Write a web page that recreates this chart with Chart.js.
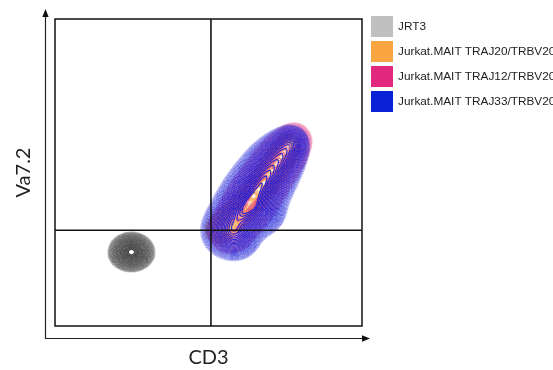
<!DOCTYPE html>
<html>
<head>
<meta charset="utf-8">
<script src="https://cdn.jsdelivr.net/npm/chart.js@4.4.1/dist/chart.umd.min.js"></script>
<style>
  html, body { margin: 0; padding: 0; background: #fff; overflow: hidden; }
  canvas { display: block; }
</style>
</head>
<body>
<canvas id="plot" width="553" height="370"></canvas>
<script>
// Samples shown in the overlay, back to front
const populations = ['JRT3', 'Jurkat.MAIT TRAJ20/TRBV20', 'Jurkat.MAIT TRAJ12/TRBV20', 'Jurkat.MAIT TRAJ33/TRBV20'];
const swatchColors = ['#c0c0c0', '#f9a541', '#e0297f', '#0a22d6'];
const contourRGB = ['70,70,70', '245,150,50', '225,40,125', '25,30,215'];
const outerAlpha = [0.28, 0.25, 0.25, 0.28];
const innerAlpha = [1, 0.55, 0.6, 1];

// Density peaks per sample: [CD3 centre, Va7.2 centre, spread CD3, spread Va7.2, weight]
const jrt3Peaks = [[24.9, 24.1, 2.64, 2.25, 1]];
const traj20Peaks = [
  [53.7, 31.6, 1.8, 1.8, 0.6],
  [57.3, 34.9, 1.8, 1.8, 0.8],
  [61.2, 38.4, 1.8, 1.8, 0.95],
  [64.8, 42.3, 1.8, 1.8, 1.0],
  [68.1, 46.6, 1.8, 1.8, 1.0],
  [71.0, 50.8, 1.8, 1.8, 0.9],
  [73.6, 55.0, 1.8, 1.8, 0.75],
  [75.9, 58.6, 1.6, 1.6, 0.55]
];
const traj12Peaks = [
  [57.3, 31.3, 2.8, 2.8, 0.8],
  [61.2, 36.8, 3.0, 3.0, 0.95],
  [64.8, 42.0, 3.1, 3.1, 1.0],
  [68.1, 47.2, 3.0, 3.0, 0.95],
  [71.7, 52.4, 2.9, 2.9, 0.9],
  [74.9, 56.7, 2.7, 2.7, 0.8],
  [77.9, 60.4, 2.2, 2.2, 0.55]
];
const traj33Peaks = [
  [57.0, 31.3, 3.55, 3.55, 0.85],
  [59.5, 28.8, 2.8, 2.8, 0.35],
  [60.9, 36.8, 3.7, 3.7, 1.0],
  [67.4, 37.1, 3.0, 3.0, 0.4],
  [64.5, 42.0, 3.9, 3.9, 1.0],
  [67.8, 47.2, 3.7, 3.7, 0.95],
  [71.0, 52.1, 3.5, 3.5, 0.85],
  [74.3, 56.4, 3.0, 3.0, 0.7],
  [76.9, 59.6, 2.3, 2.3, 0.5]
];
const samplePeaks = [jrt3Peaks, traj20Peaks, traj12Peaks, traj33Peaks];

// Contour levels as fractions of each sample's peak density
const contourLevels = [0.0149, 0.0197, 0.0257, 0.0332, 0.0425, 0.0539, 0.0678, 0.0844, 0.1042, 0.1274,
  0.1543, 0.1851, 0.2201, 0.2592, 0.3024, 0.3495, 0.4002, 0.454, 0.5103, 0.5683,
  0.6268, 0.685, 0.7416, 0.7954, 0.8452, 0.8897, 0.928];

// Quadrant gates
const gateCD3 = 50.8;
const gateVa72 = 31.2;
const axisMin = 0, axisMax = 100;

function densityAt(x, y, peaks) {
  let d = 0;
  for (const [cx, cy, sx, sy, w] of peaks) {
    const dx = (x - cx) / sx, dy = (y - cy) / sy;
    d += w * Math.exp(-0.5 * (dx * dx + dy * dy));
  }
  return d;
}

// Marching squares over a regular grid; segments are separated by gaps
const STEP = 0.4;
const N = Math.round((axisMax - axisMin) / STEP) + 1;
const SEG = {
  1: [[3, 0]], 2: [[0, 1]], 3: [[3, 1]], 4: [[1, 2]], 5: [[3, 2], [0, 1]],
  6: [[0, 2]], 7: [[3, 2]], 8: [[2, 3]], 9: [[0, 2]], 10: [[0, 3], [1, 2]],
  11: [[1, 2]], 12: [[1, 3]], 13: [[0, 1]], 14: [[0, 3]]
};

function contourSets(peaks) {
  const grid = new Float64Array(N * N);
  let peak = 0;
  for (let j = 0; j < N; j++) {
    for (let i = 0; i < N; i++) {
      const v = densityAt(axisMin + i * STEP, axisMin + j * STEP, peaks);
      grid[j * N + i] = v;
      if (v > peak) peak = v;
    }
  }
  return contourLevels.map(frac => {
    const t = frac * peak;
    const pts = [];
    for (let j = 0; j < N - 1; j++) {
      for (let i = 0; i < N - 1; i++) {
        const v0 = grid[j * N + i], v1 = grid[j * N + i + 1];
        const v2 = grid[(j + 1) * N + i + 1], v3 = grid[(j + 1) * N + i];
        const idx = (v0 >= t ? 1 : 0) | (v1 >= t ? 2 : 0) | (v2 >= t ? 4 : 0) | (v3 >= t ? 8 : 0);
        if (idx === 0 || idx === 15) continue;
        const x0 = axisMin + i * STEP, y0 = axisMin + j * STEP, x1 = x0 + STEP, y1 = y0 + STEP;
        const edge = e => {
          if (e === 0) return { x: x0 + (t - v0) / (v1 - v0) * STEP, y: y0 };
          if (e === 1) return { x: x1, y: y0 + (t - v1) / (v2 - v1) * STEP };
          if (e === 2) return { x: x0 + (t - v3) / (v2 - v3) * STEP, y: y1 };
          return { x: x0, y: y0 + (t - v0) / (v3 - v0) * STEP };
        };
        for (const [a, b] of SEG[idx]) {
          pts.push(edge(a), edge(b), { x: NaN, y: NaN });
        }
      }
    }
    return pts;
  });
}

const datasets = [];
// gate lines sit above the contours
datasets.push({
  data: [{ x: gateCD3, y: axisMin }, { x: gateCD3, y: axisMax }],
  showLine: true, borderColor: '#111', borderWidth: 1.6, pointRadius: 0, order: 0
});
datasets.push({
  data: [{ x: axisMin, y: gateVa72 }, { x: axisMax, y: gateVa72 }],
  showLine: true, borderColor: '#111', borderWidth: 1.6, pointRadius: 0, order: 0
});

samplePeaks.forEach((peaks, p) => {
  const sets = contourSets(peaks);
  sets.forEach((pts, k) => {
    const alpha = outerAlpha[p] + (innerAlpha[p] - outerAlpha[p]) * Math.pow(k / (sets.length - 1), 0.45);
    datasets.push({
      label: populations[p],
      data: pts,
      showLine: true,
      spanGaps: false,
      borderColor: `rgba(${contourRGB[p]},${alpha.toFixed(3)})`,
      borderWidth: 1.1,
      pointRadius: 0,
      tension: 0,
      order: 10 - p
    });
  });
});

const framePlugin = {
  id: 'frame',
  afterDatasetsDraw(chart) {
    const { ctx, chartArea: a } = chart;
    ctx.save();
    // plot frame
    ctx.strokeStyle = '#111';
    ctx.lineWidth = 1.5;
    ctx.strokeRect(a.left, a.top, a.right - a.left, a.bottom - a.top);

    // axis arrows
    const ax = a.left - 9.5, ay = a.bottom + 12.5;
    ctx.lineWidth = 1.2;
    ctx.strokeStyle = '#222';
    ctx.beginPath();
    ctx.moveTo(ax, a.top - 5);
    ctx.lineTo(ax, ay);
    ctx.lineTo(a.right + 2, ay);
    ctx.stroke();
    ctx.fillStyle = '#111';
    ctx.beginPath();
    ctx.moveTo(ax, a.top - 10);
    ctx.lineTo(ax - 3.2, a.top - 2);
    ctx.lineTo(ax + 3.2, a.top - 2);
    ctx.closePath();
    ctx.fill();
    ctx.beginPath();
    ctx.moveTo(a.right + 8, ay);
    ctx.lineTo(a.right, ay - 3.2);
    ctx.lineTo(a.right, ay + 3.2);
    ctx.closePath();
    ctx.fill();

    // axis titles
    ctx.fillStyle = '#222';
    ctx.font = '20px Lato, "DejaVu Sans", sans-serif';
    ctx.textAlign = 'center';
    ctx.textBaseline = 'middle';
    ctx.fillText('CD3', (a.left + a.right) / 2, a.bottom + 32);
    ctx.save();
    ctx.translate(a.left - 31, (a.top + a.bottom) / 2);
    ctx.rotate(-Math.PI / 2);
    ctx.fillText('Va7.2', 0, 0);
    ctx.restore();

    // legend
    ctx.font = '11.8px "Liberation Sans", Arial, sans-serif';
    ctx.textAlign = 'left';
    populations.forEach((name, i) => {
      const y = 16 + i * 25;
      ctx.fillStyle = swatchColors[i];
      ctx.fillRect(a.right + 9, y, 22, 21);
      ctx.fillStyle = '#222';
      ctx.fillText(name, a.right + 36, y + 11);
    });
    ctx.restore();
  }
};

new Chart(document.getElementById('plot'), {
  type: 'scatter',
  data: { datasets },
  options: {
    responsive: false,
    animation: false,
    events: [],
    devicePixelRatio: 1,
    layout: { padding: { left: 55, top: 19, right: 191, bottom: 44 } },
    scales: {
      x: { type: 'linear', min: axisMin, max: axisMax, display: false },
      y: { type: 'linear', min: axisMin, max: axisMax, display: false }
    },
    plugins: { legend: { display: false }, tooltip: { enabled: false } }
  },
  plugins: [framePlugin]
});
</script>
</body>
</html>
